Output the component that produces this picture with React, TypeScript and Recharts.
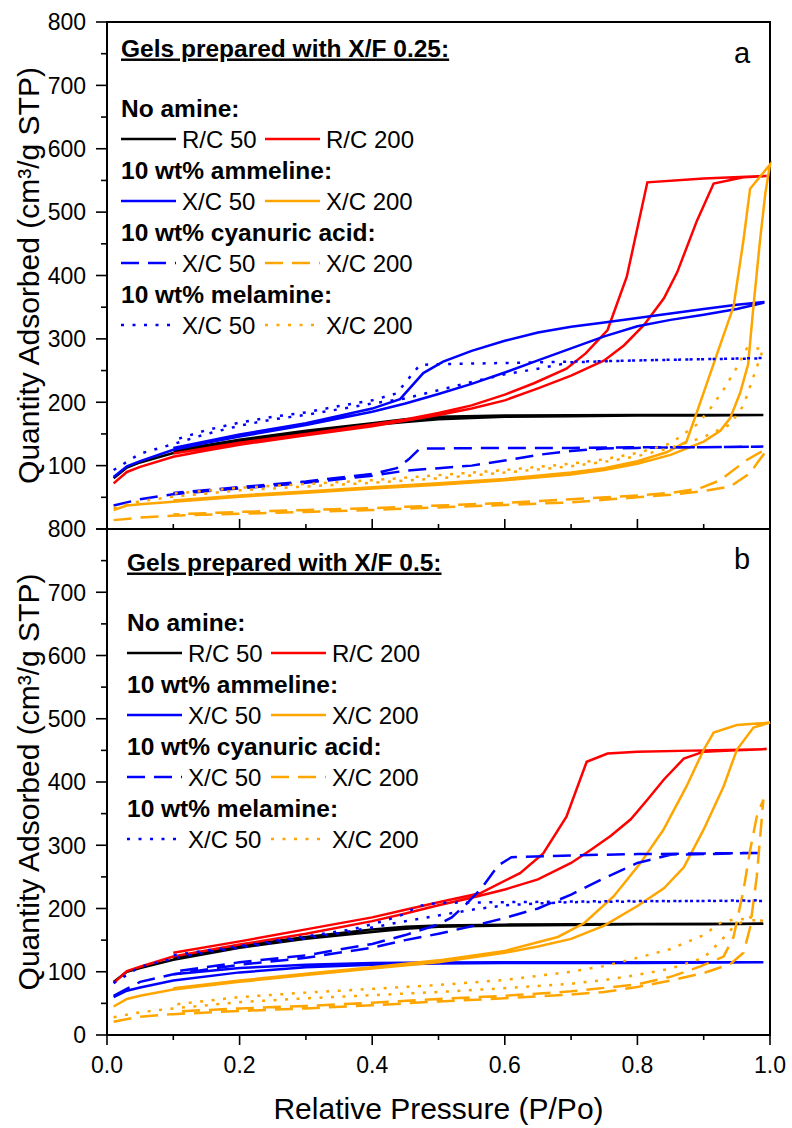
import React from "react";
import { LineChart, Line, XAxis, YAxis, ReferenceArea } from "recharts";

type Pt = [number, number];

const xTicks = [0, 0.1, 0.2, 0.3, 0.4, 0.5, 0.6, 0.7, 0.8, 0.9, 1.0];
const yTicks = [0, 50, 100, 150, 200, 250, 300, 350, 400, 450, 500, 550, 600, 650, 700, 750, 800];

const BLACK = "#000000";
const RED = "#ff0000";
const BLUE = "#0000ff";
const ORANGE = "#ffa500";
const DASH = "18 9";
const DOT = "3 8.5";

// ---- panel a: X/F 0.25  [P/Po, cm3/g] adsorption then desorption ----
const aRc50Ads: Pt[] = [[0.01, 80], [0.03, 97], [0.05, 105], [0.1, 120], [0.15, 130], [0.2, 138], [0.3, 152], [0.4, 164], [0.45, 169], [0.5, 173], [0.55, 175], [0.6, 177], [0.7, 178], [0.8, 179], [0.9, 179], [0.99, 180]];
const aRc50Des: Pt[] = [[0.99, 180], [0.8, 180], [0.7, 179.5], [0.6, 179], [0.5, 177], [0.45, 173], [0.4, 167], [0.3, 155], [0.2, 141], [0.1, 124]];

const aRc200Ads: Pt[] = [[0.01, 72], [0.03, 90], [0.05, 98], [0.1, 114], [0.15, 124], [0.2, 133], [0.3, 148], [0.4, 162], [0.5, 180], [0.55, 190], [0.6, 203], [0.65, 222], [0.7, 242], [0.75, 266], [0.78, 290], [0.81, 322], [0.84, 364], [0.86, 405], [0.89, 487], [0.915, 545], [0.96, 555], [0.995, 557]];
const aRc200Des: Pt[] = [[0.995, 557], [0.9, 553], [0.815, 547], [0.784, 398], [0.755, 314], [0.722, 277], [0.693, 253], [0.644, 230], [0.6, 212], [0.55, 195], [0.5, 183], [0.45, 173], [0.4, 165], [0.3, 150], [0.2, 136], [0.1, 119]];

const aAmm50Ads: Pt[] = [[0.01, 82], [0.03, 99], [0.05, 107], [0.1, 125], [0.15, 136], [0.2, 146], [0.3, 164], [0.4, 185], [0.45, 198], [0.5, 213], [0.55, 229], [0.6, 247], [0.65, 266], [0.7, 285], [0.75, 304], [0.8, 320], [0.85, 330], [0.9, 338], [0.95, 347], [0.99, 357]];
const aAmm50Des: Pt[] = [[0.99, 358], [0.95, 354], [0.9, 347], [0.85, 340], [0.8, 333], [0.75, 326], [0.7, 319], [0.65, 310], [0.6, 297], [0.55, 281], [0.507, 264], [0.477, 246], [0.442, 205], [0.4, 190], [0.3, 167], [0.2, 149], [0.1, 128]];

const aAmm200Ads: Pt[] = [[0.01, 30], [0.03, 37], [0.05, 39], [0.1, 43], [0.2, 51], [0.3, 57], [0.4, 64], [0.5, 70], [0.6, 77], [0.7, 86], [0.75, 93], [0.8, 103], [0.85, 117], [0.9, 138], [0.925, 155], [0.94, 175], [0.955, 215], [0.967, 260], [0.975, 351], [0.985, 456], [0.993, 530], [1.0, 575]];
const aAmm200Des: Pt[] = [[1.0, 575], [0.97, 537], [0.96, 456], [0.945, 351], [0.917, 267], [0.889, 182], [0.874, 138], [0.844, 121], [0.8, 107], [0.75, 96], [0.7, 89], [0.6, 79], [0.5, 72], [0.4, 66], [0.3, 59], [0.2, 53], [0.1, 45]];

const aCya50Ads: Pt[] = [[0.01, 37], [0.05, 47], [0.1, 55], [0.2, 64], [0.3, 73], [0.4, 84], [0.45, 92], [0.5, 96], [0.55, 100], [0.6, 108], [0.65, 117], [0.7, 123], [0.75, 127], [0.8, 128], [0.9, 129], [0.99, 130]];
const aCya50Des: Pt[] = [[0.99, 130], [0.9, 129], [0.8, 129], [0.7, 128], [0.6, 128], [0.5, 127], [0.472, 127], [0.455, 110], [0.437, 96], [0.4, 87], [0.3, 75], [0.2, 66], [0.1, 57]];

const aCya200Ads: Pt[] = [[0.01, 14], [0.05, 18], [0.1, 21], [0.2, 24], [0.3, 27], [0.4, 30], [0.5, 34], [0.6, 38], [0.7, 42], [0.75, 46], [0.8, 50], [0.85, 54], [0.9, 60], [0.94, 67], [0.97, 88], [0.982, 106], [0.995, 124]];
const aCya200Des: Pt[] = [[0.995, 124], [0.985, 121], [0.965, 109], [0.925, 77], [0.894, 64], [0.85, 57], [0.8, 53], [0.7, 47], [0.6, 41], [0.5, 37], [0.4, 33], [0.3, 30], [0.2, 27], [0.1, 23]];

const aMel50Ads: Pt[] = [[0.01, 93], [0.05, 119], [0.1, 134], [0.15, 150], [0.2, 163], [0.25, 173], [0.3, 180], [0.35, 189], [0.4, 198], [0.45, 206], [0.5, 219], [0.55, 232], [0.6, 244], [0.65, 253], [0.7, 263], [0.8, 266], [0.9, 268], [0.99, 269]];
const aMel50Des: Pt[] = [[0.99, 270], [0.9, 268], [0.8, 266], [0.7, 264], [0.6, 262], [0.5, 260], [0.472, 259], [0.457, 240], [0.437, 214], [0.4, 203], [0.35, 194], [0.3, 184], [0.25, 177], [0.2, 168], [0.15, 156], [0.1, 140]];

const aMel200Ads: Pt[] = [[0.01, 33], [0.05, 44], [0.1, 51], [0.2, 61], [0.3, 67], [0.4, 73], [0.5, 80], [0.6, 89], [0.7, 99], [0.75, 106], [0.8, 115], [0.85, 128], [0.9, 145], [0.94, 165], [0.96, 195], [0.975, 240], [0.99, 285]];
const aMel200Des: Pt[] = [[0.99, 285], [0.965, 285], [0.95, 255], [0.93, 220], [0.91, 190], [0.89, 165], [0.87, 150], [0.85, 135], [0.8, 120], [0.75, 110], [0.7, 103], [0.6, 93], [0.5, 85], [0.4, 77], [0.3, 71], [0.2, 65], [0.1, 56]];

// ---- panel b: X/F 0.5 ----
const bRc50Ads: Pt[] = [[0.01, 84], [0.03, 100], [0.05, 106], [0.1, 119], [0.2, 138], [0.3, 152], [0.4, 163], [0.45, 168], [0.5, 171], [0.6, 173], [0.7, 174], [0.8, 175], [0.9, 175], [0.99, 176]];
const bRc50Des: Pt[] = [[0.99, 176], [0.8, 175.5], [0.6, 174.5], [0.5, 173], [0.45, 171], [0.4, 167], [0.3, 155], [0.2, 141], [0.1, 122]];

const bRc200Ads: Pt[] = [[0.01, 82], [0.03, 101], [0.05, 108], [0.1, 124], [0.2, 143], [0.3, 160], [0.4, 180], [0.45, 192], [0.5, 205], [0.55, 217], [0.6, 230], [0.65, 246], [0.7, 272], [0.73, 293], [0.76, 315], [0.79, 341], [0.815, 372], [0.84, 404], [0.87, 437], [0.9, 448], [0.95, 450], [0.995, 452]];
const bRc200Des: Pt[] = [[0.995, 452], [0.9, 450], [0.8, 448], [0.755, 445], [0.7235, 432], [0.693, 345], [0.658, 287], [0.623, 256], [0.5626, 224], [0.5, 210], [0.45, 198], [0.4, 186], [0.3, 167], [0.2, 148], [0.1, 130]];

const bAmm50Ads: Pt[] = [[0.01, 60], [0.03, 70], [0.05, 75], [0.1, 86], [0.2, 99], [0.3, 107], [0.4, 111], [0.5, 113], [0.6, 114], [0.8, 114], [0.99, 115]];
const bAmm50Des: Pt[] = [[0.99, 115], [0.8, 115], [0.6, 115], [0.5, 114.5], [0.4, 114], [0.3, 111], [0.2, 106], [0.1, 96]];

const bAmm200Ads: Pt[] = [[0.01, 45], [0.03, 57], [0.05, 62], [0.1, 72], [0.2, 84], [0.3, 95], [0.4, 105], [0.5, 115], [0.6, 130], [0.65, 140], [0.7, 152], [0.75, 173], [0.8, 204], [0.84, 232], [0.87, 265], [0.9, 325], [0.93, 393], [0.95, 451], [0.975, 486], [1.0, 494]];
const bAmm200Des: Pt[] = [[1.0, 494], [0.95, 490], [0.915, 478], [0.9, 451], [0.874, 393], [0.839, 324], [0.804, 271], [0.764, 219], [0.72, 177], [0.68, 155], [0.6, 133], [0.5, 118], [0.4, 107], [0.3, 97], [0.2, 86], [0.1, 74]];

const bCya50Ads: Pt[] = [[0.01, 62], [0.05, 84], [0.1, 96], [0.2, 111], [0.3, 122], [0.4, 138], [0.45, 150], [0.5, 160], [0.55, 172], [0.6, 185], [0.65, 200], [0.7, 222], [0.75, 248], [0.8, 272], [0.85, 285], [0.9, 286], [0.99, 288]];
const bCya50Des: Pt[] = [[0.99, 288], [0.9, 287], [0.8, 286], [0.7, 284], [0.61, 281], [0.59, 268], [0.565, 232], [0.54, 205], [0.52, 186], [0.5, 175], [0.45, 158], [0.4, 144], [0.3, 126], [0.2, 115], [0.1, 100]];

const bCya200Ads: Pt[] = [[0.01, 21], [0.05, 29], [0.1, 33], [0.2, 38], [0.3, 42], [0.4, 47], [0.5, 53], [0.6, 58], [0.7, 64], [0.75, 68], [0.8, 76], [0.85, 86], [0.9, 98], [0.94, 112], [0.96, 130], [0.97, 170], [0.98, 250], [0.99, 372]];
const bCya200Des: Pt[] = [[0.99, 372], [0.98, 345], [0.97, 292], [0.96, 229], [0.945, 155], [0.93, 124], [0.894, 108], [0.85, 92], [0.8, 80], [0.7, 69], [0.6, 62], [0.5, 57], [0.4, 51], [0.3, 46], [0.2, 42], [0.1, 37]];

const bMel50Ads: Pt[] = [[0.01, 82], [0.05, 108], [0.1, 121], [0.15, 131], [0.2, 138], [0.25, 146], [0.3, 153], [0.35, 161], [0.4, 170], [0.45, 180], [0.5, 189], [0.55, 198], [0.6, 205], [0.65, 208], [0.7, 210], [0.8, 211], [0.9, 212], [0.99, 212]];
const bMel50Des: Pt[] = [[0.99, 213], [0.9, 212], [0.8, 212], [0.7, 211], [0.6, 210], [0.5, 209], [0.47, 204], [0.445, 190], [0.42, 181], [0.37, 167], [0.32, 159], [0.26, 150], [0.21, 142], [0.16, 135], [0.1, 126]];

const bMel200Ads: Pt[] = [[0.01, 28], [0.05, 36], [0.1, 42], [0.2, 52], [0.3, 58], [0.4, 63], [0.5, 68], [0.6, 74], [0.7, 81], [0.75, 87], [0.8, 95], [0.85, 105], [0.9, 122], [0.925, 148], [0.945, 171], [0.97, 186], [0.99, 180]];
const bMel200Des: Pt[] = [[0.99, 180], [0.95, 184], [0.925, 177], [0.9, 158], [0.85, 136], [0.8, 122], [0.75, 109], [0.7, 100], [0.6, 87], [0.5, 79], [0.4, 73], [0.3, 67], [0.2, 60], [0.1, 48]];

// legend text
const legendTitles = ["Gels prepared with X/F 0.25:", "Gels prepared with X/F 0.5:"];
const legendGroups = ["No amine:", "10 wt% ammeline:", "10 wt% cyanuric acid:", "10 wt% melamine:"];
const legendLabels = [["R/C 50", "R/C 200"], ["X/C 50", "X/C 200"], ["X/C 50", "X/C 200"], ["X/C 50", "X/C 200"]];
const panelLetters = ["a", "b"];

interface Series {
  color: string;
  dash?: string;
  ads: Pt[];
  des: Pt[];
}

const panelA: Series[] = [
  { color: BLACK, ads: aRc50Ads, des: aRc50Des },
  { color: RED, ads: aRc200Ads, des: aRc200Des },
  { color: BLUE, ads: aAmm50Ads, des: aAmm50Des },
  { color: ORANGE, ads: aAmm200Ads, des: aAmm200Des },
  { color: BLUE, dash: DASH, ads: aCya50Ads, des: aCya50Des },
  { color: ORANGE, dash: DASH, ads: aCya200Ads, des: aCya200Des },
  { color: BLUE, dash: DOT, ads: aMel50Ads, des: aMel50Des },
  { color: ORANGE, dash: DOT, ads: aMel200Ads, des: aMel200Des },
];

const panelB: Series[] = [
  { color: BLACK, ads: bRc50Ads, des: bRc50Des },
  { color: RED, ads: bRc200Ads, des: bRc200Des },
  { color: BLUE, ads: bAmm50Ads, des: bAmm50Des },
  { color: ORANGE, ads: bAmm200Ads, des: bAmm200Des },
  { color: BLUE, dash: DASH, ads: bCya50Ads, des: bCya50Des },
  { color: ORANGE, dash: DASH, ads: bCya200Ads, des: bCya200Des },
  { color: BLUE, dash: DOT, ads: bMel50Ads, des: bMel50Des },
  { color: ORANGE, dash: DOT, ads: bMel200Ads, des: bMel200Des },
];

const FONT = "'Liberation Sans', Arial, Helvetica, sans-serif";
const Y_TITLE = "Quantity Adsorbed (cm\u00b3/g STP)";

const toLoop = (s: Series) => [...s.ads, ...s.des].map(([x, y]) => ({ x, y }));

function XTick(props: any) {
  const { x, y, payload, up, labels } = props;
  const v = payload.value as number;
  const major = Math.round(v * 10) % 2 === 0;
  const len = major ? 10 : 5;
  return (
    <g>
      <line x1={x} x2={x} y1={y} y2={up ? y - len : y + len} stroke="#000" strokeWidth={1.6} />
      {labels && major && (
        <text x={x} y={y + 38} textAnchor="middle" fontSize={23} fill="#000">
          {v.toFixed(1)}
        </text>
      )}
    </g>
  );
}

function YTick(props: any) {
  const { x, y, payload, skipZero } = props;
  const v = payload.value as number;
  const major = v % 100 === 0;
  const len = major ? 11 : 6;
  return (
    <g>
      <line x1={x - len} x2={x} y1={y} y2={y} stroke="#000" strokeWidth={1.6} />
      {major && !(skipZero && v === 0) && (
        <text x={x - 21} y={y} dy="0.36em" textAnchor="end" fontSize={23} fill="#000">
          {v}
        </text>
      )}
    </g>
  );
}

function Panel({ series, bottomPanel }: { series: Series[]; bottomPanel: boolean }) {
  const height = bottomPanel ? 1128 : 560;
  const margin = bottomPanel
    ? { top: 529, right: 22, bottom: 8, left: 0 }
    : { top: 22, right: 22, bottom: 0, left: 0 };
  return (
    <LineChart width={792} height={height} margin={margin}>
      <XAxis
        type="number"
        dataKey="x"
        domain={[0, 1]}
        ticks={xTicks}
        interval={0}
        height={bottomPanel ? 85 : 31}
        tickSize={0}
        tickMargin={0}
        tickLine={false}
        axisLine={{ stroke: "#000", strokeWidth: 2 }}
        tick={(p: any) => <XTick {...p} up={!bottomPanel} labels={bottomPanel} />}
        label={
          bottomPanel
            ? { value: "Relative Pressure (P/Po)", position: "insideBottom", offset: 1, style: { fontSize: 30, fill: "#000" } }
            : undefined
        }
      />
      <YAxis
        type="number"
        dataKey="y"
        domain={[0, 800]}
        ticks={yTicks}
        interval={0}
        width={107}
        tickSize={0}
        tickMargin={0}
        tickLine={false}
        axisLine={{ stroke: "#000", strokeWidth: 2 }}
        tick={(p: any) => <YTick {...p} skipZero={!bottomPanel} />}
        label={{
          value: Y_TITLE,
          angle: -90,
          position: "insideLeft",
          offset: 28,
          style: { textAnchor: "middle", fontSize: 30, fill: "#000" },
        }}
      />
      <ReferenceArea x1={0} x2={1} y1={0} y2={800} fill="none" stroke="#000" strokeWidth={2} />
      {series.map((s, i) => (
        <Line
          key={i}
          data={toLoop(s)}
          dataKey="y"
          type="linear"
          stroke={s.color}
          strokeWidth={2.5}
          strokeDasharray={s.dash}
          dot={false}
          activeDot={false}
          isAnimationActive={false}
        />
      ))}
    </LineChart>
  );
}

function LegendBlock({ x0, y0, panel, series }: { x0: number; y0: number; panel: number; series: Series[] }) {
  // y0 = vertical centre of the title line
  return (
    <g>
      <text x={x0} y={y0 + 8.5} fontSize={24.5} fontWeight="bold" textDecoration="underline" fill="#000">
        {legendTitles[panel]}
      </text>
      {legendGroups.map((g, gi) => {
        const hy = y0 + 60 + gi * 62;
        const ry = hy + 31;
        return (
          <g key={gi}>
            <text x={x0} y={hy + 8.5} fontSize={24.5} fontWeight="bold" fill="#000">
              {g}
            </text>
            {[0, 1].map((k) => {
              const s = series[gi * 2 + k];
              const lx = x0 + k * 144;
              return (
                <g key={k}>
                  <line x1={lx} x2={lx + 55} y1={ry} y2={ry} stroke={s.color} strokeWidth={2.5} strokeDasharray={s.dash} />
                  <text x={lx + 61} y={ry + 8.5} fontSize={24} fill="#000">
                    {legendLabels[gi][k]}
                  </text>
                </g>
              );
            })}
          </g>
        );
      })}
    </g>
  );
}

export default function App() {
  return (
    <div style={{ position: "absolute", left: 0, top: 0, width: 792, height: 1128, background: "#fff", fontFamily: FONT }}>
      <div style={{ position: "absolute", left: 0, top: 0 }}>
        <Panel series={panelA} bottomPanel={false} />
      </div>
      <div style={{ position: "absolute", left: 0, top: 0 }}>
        <Panel series={panelB} bottomPanel={true} />
      </div>
      <svg width={792} height={1128} style={{ position: "absolute", left: 0, top: 0, pointerEvents: "none" }}>
        <LegendBlock x0={121} y0={48} panel={0} series={panelA} />
        <LegendBlock x0={127} y0={562} panel={1} series={panelB} />
        <text x={742} y={63} textAnchor="middle" fontSize={29} fill="#000">
          {panelLetters[0]}
        </text>
        <text x={742} y={569} textAnchor="middle" fontSize={29} fill="#000">
          {panelLetters[1]}
        </text>
      </svg>
    </div>
  );
}
